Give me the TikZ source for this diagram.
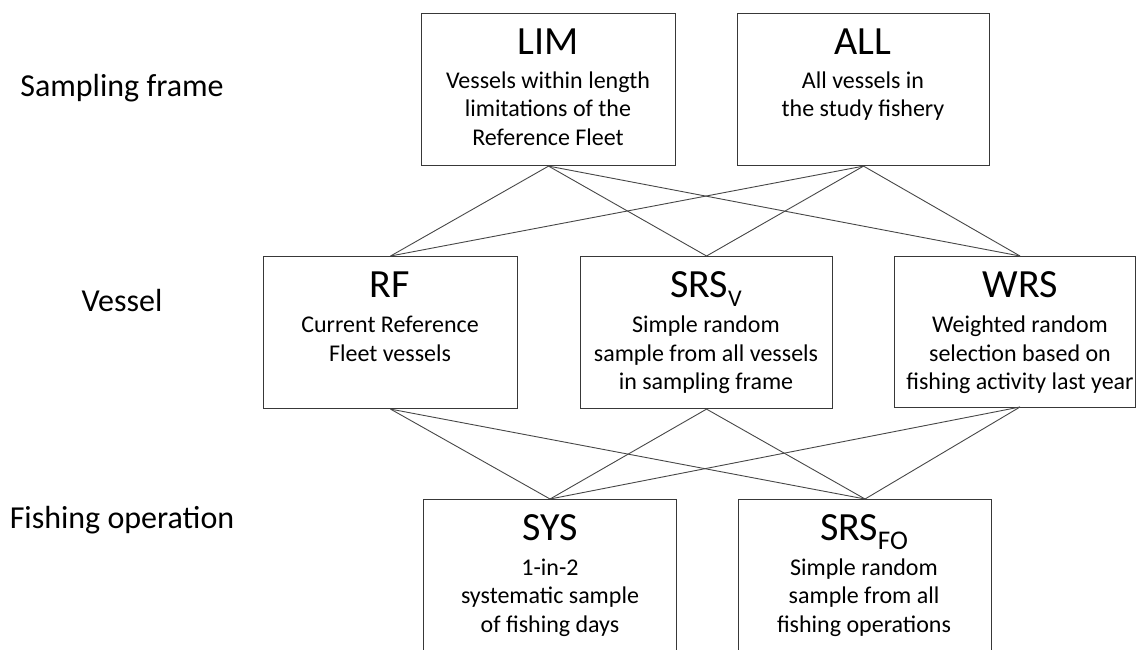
\documentclass[tikz,border=0pt]{standalone}
\usepackage{fontspec}
\setmainfont{Carlito}
\tikzset{
  box/.style={draw=black!78, line width=1.1pt, rectangle, inner sep=0pt},
  ttl/.style={font=\fontsize{40}{42}\selectfont, anchor=base, inner sep=0pt},
  body/.style={font=\fontsize{24}{28.5}\selectfont, anchor=base, inner sep=0pt},
  lvl/.style={font=\fontsize{32}{36}\selectfont, anchor=base, inner sep=0pt},
  link/.style={draw=black!72, line width=0.9pt},
}
\newcommand{\mysub}[2][24]{\raisebox{-9pt}{\fontsize{#1}{#1}\selectfont #2}}
\newcommand{\bodylines}[1]{\begin{tabular}[t]{@{}c@{}}#1\end{tabular}}
\begin{document}
\begin{tikzpicture}[x=1pt,y=-1pt]
\useasboundingbox (0,0) rectangle (1136,649);
\clip (0,0) rectangle (1136,649);
% boxes
\node[box, minimum width=254pt, minimum height=152pt, anchor=north west] (lim) at (421,13) {};
\node[box, minimum width=252pt, minimum height=152pt, anchor=north west] (all) at (737,13) {};
\node[box, minimum width=254pt, minimum height=152pt, anchor=north west] (rf) at (263,256) {};
\node[box, minimum width=252pt, minimum height=152pt, anchor=north west] (srsv) at (580,256) {};
\node[box, minimum width=241pt, minimum height=151pt, anchor=north west] (wrs) at (894,256) {};
\node[box, minimum width=253pt, minimum height=170pt, anchor=north west] (sys) at (423,499) {};
\node[box, minimum width=253pt, minimum height=170pt, anchor=north west] (srsfo) at (738,499) {};
\coordinate (wrsT) at (1020,256);
\coordinate (wrsB) at (1020,407);
% texts
\node[ttl] (limt) at (548,54) {LIM};
\node[body] (limb) at (548,88) {\bodylines{Vessels within length\\limitations of the\\Reference Fleet}};
\node[ttl] (allt) at (863,54) {ALL};
\node[body] (allb) at (863,88) {\bodylines{All vessels in\\the study fishery}};
\node[ttl] (rft) at (390,297) {RF};
\node[body] (rfb) at (390,332.5) {\bodylines{Current Reference\\Fleet vessels}};
\node[ttl] (srsvt) at (706,297) {SRS\mysub{V}};
\node[body] (srsvb) at (706,332.5) {\bodylines{Simple random\\sample from all vessels\\in sampling frame}};
\node[ttl] (wrst) at (1020,297) {WRS};
\node[body] (wrsb) at (1020,332.5) {\bodylines{Weighted random\\selection based on\\fishing activity last year}};
\node[ttl] (syst) at (550,540) {SYS};
\node[body] (sysb) at (550,575) {\bodylines{1-in-2\\systematic sample\\of fishing days}};
\node[ttl] (srsfot) at (864,540) {SRS\mysub[27]{FO}};
\node[body] (srsfob) at (864,575) {\bodylines{Simple random\\sample from all\\fishing operations}};
% level labels
\node[lvl] (l1) at (122,96) {Sampling frame};
\node[lvl] (l2) at (122,311) {Vessel};
\node[lvl] (l3) at (122,528) {Fishing operation};
% links
\draw[link] (lim.south) -- (rf.north);
\draw[link] (lim.south) -- (srsv.north);
\draw[link] (lim.south) -- (wrsT);
\draw[link] (all.south) -- (rf.north);
\draw[link] (all.south) -- (srsv.north);
\draw[link] (all.south) -- (wrsT);
\draw[link] (rf.south) -- (sys.north);
\draw[link] (rf.south) -- (srsfo.north);
\draw[link] (srsv.south) -- (sys.north);
\draw[link] (srsv.south) -- (srsfo.north);
\draw[link] (wrsB) -- (sys.north);
\draw[link] (wrsB) -- (srsfo.north);
\end{tikzpicture}
\end{document}
